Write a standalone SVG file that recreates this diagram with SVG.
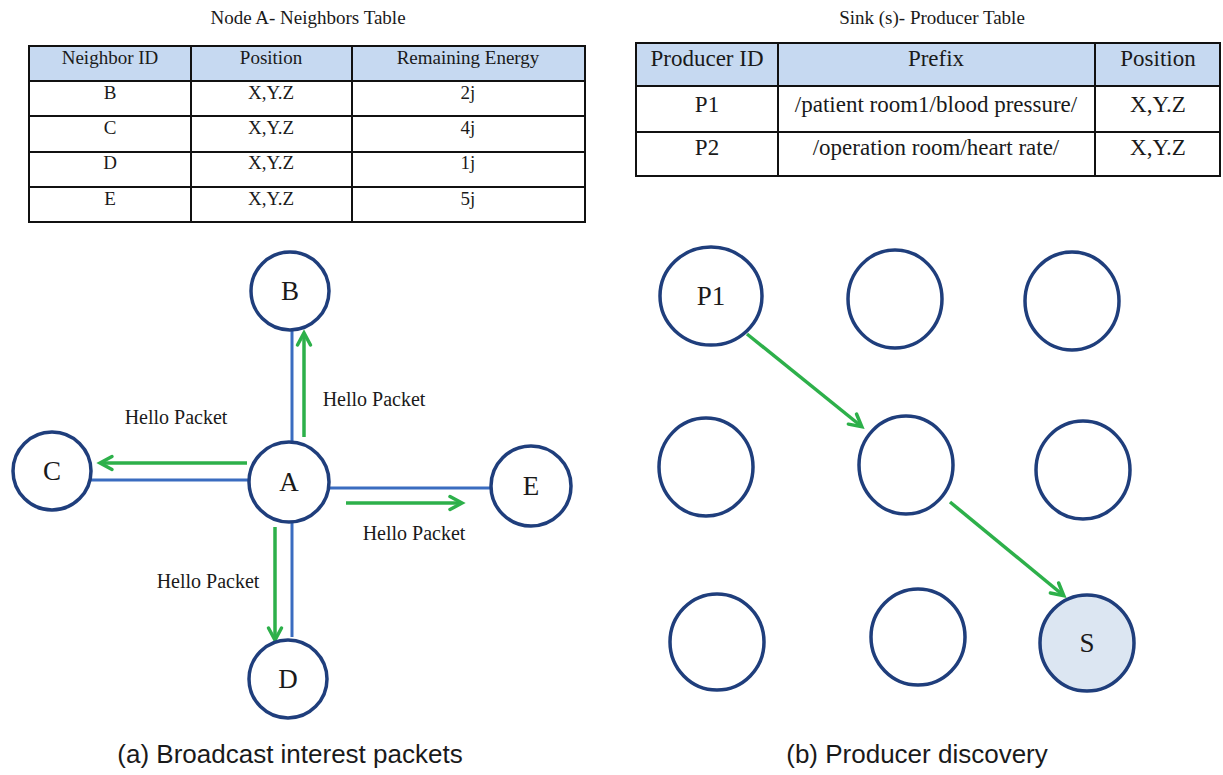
<svg xmlns="http://www.w3.org/2000/svg" width="1223" height="775" viewBox="0 0 1223 775">
<style>
.t{font-family:"Liberation Serif","Times New Roman",serif;fill:#1a1a1a;text-anchor:middle}
.lt{font-size:19px}
.rt{font-size:23px}
.hdr{fill:#c6d9f1}
.grid{stroke:#111;stroke-width:2;fill:none}
.node{fill:#fff;stroke:#1f3e7c;stroke-width:3.5}
.sink{fill:#dce6f2;stroke:#1f3e7c;stroke-width:3.5}
.nl{font-family:"Liberation Serif","Times New Roman",serif;font-size:27px;fill:#1a1a1a;text-anchor:middle}
.hp{font-family:"Liberation Serif","Times New Roman",serif;font-size:20px;fill:#1a1a1a;text-anchor:middle}
.blue{stroke:#3a6cc0;stroke-width:3;fill:none}
.green{stroke:#2db04a;stroke-width:3.5;fill:none;marker-end:url(#ah)}
.cap{font-family:"Liberation Sans",Arial,sans-serif;font-size:26px;fill:#1a1a1a;text-anchor:middle}
</style>
<defs>
<marker id="ah" viewBox="0 0 16 16" refX="13" refY="8" markerWidth="16" markerHeight="16" markerUnits="userSpaceOnUse" orient="auto" overflow="visible">
<path d="M2,1.5 L14,8 L2,14.5" fill="none" stroke="#2db04a" stroke-width="3.5" stroke-linecap="round" stroke-linejoin="miter"/>
</marker>
</defs>
<rect width="1223" height="775" fill="#fff"/>

<g id="neighbors-table">
<text class="t lt" x="308" y="24">Node A- Neighbors Table</text>
<rect class="hdr" x="29" y="46" width="556" height="35"/>
<rect class="grid" x="29" y="46" width="556" height="176"/>
<path class="grid" d="M29,81H585M29,116H585M29,152H585M29,187H585M191,46V222M352,46V222"/>
<text class="t lt" x="110" y="64">Neighbor ID</text>
<text class="t lt" x="271" y="64">Position</text>
<text class="t lt" x="468" y="64">Remaining  Energy</text>
<text class="t lt" x="110" y="99">B</text><text class="t lt" x="271" y="99">X,Y.Z</text><text class="t lt" x="468" y="99">2j</text>
<text class="t lt" x="110" y="134">C</text><text class="t lt" x="271" y="134">X,Y.Z</text><text class="t lt" x="468" y="134">4j</text>
<text class="t lt" x="110" y="169">D</text><text class="t lt" x="271" y="169">X,Y.Z</text><text class="t lt" x="468" y="169">1j</text>
<text class="t lt" x="110" y="205">E</text><text class="t lt" x="271" y="205">X,Y.Z</text><text class="t lt" x="468" y="205">5j</text>
</g>

<g id="producer-table">
<text class="t lt" x="932" y="24">Sink (s)- Producer Table</text>
<rect class="hdr" x="636" y="43" width="584" height="43"/>
<rect class="grid" x="636" y="43" width="584" height="133"/>
<path class="grid" d="M636,86H1220M636,132H1220M778,43V176M1095,43V176"/>
<text class="t rt" x="707" y="66">Producer  ID</text>
<text class="t rt" x="936" y="66">Prefix</text>
<text class="t rt" x="1158" y="66">Position</text>
<text class="t rt" x="707" y="112">P1</text>
<text class="t rt" x="936" y="112">/patient room1/blood pressure/</text>
<text class="t rt" x="1158" y="112">X,Y.Z</text>
<text class="t rt" x="707" y="155">P2</text>
<text class="t rt" x="936" y="155">/operation room/heart rate/</text>
<text class="t rt" x="1158" y="155">X,Y.Z</text>
</g>

<g id="connectors">
<path class="blue" d="M292,331V443"/>
<path class="blue" d="M91,480H250"/>
<path class="blue" d="M330,488H492"/>
<path class="blue" d="M292,522V637"/>
<path class="green" d="M304,437V334"/>
<path class="green" d="M247,463H101"/>
<path class="green" d="M346,503H461"/>
<path class="green" d="M275,527V639"/>
<path class="green" d="M747,334L861,426"/>
<path class="green" d="M950,502L1063,595"/>
</g>

<g id="labels">
<text class="hp" x="374" y="406">Hello Packet</text>
<text class="hp" x="176" y="424">Hello Packet</text>
<text class="hp" x="414" y="540">Hello Packet</text>
<text class="hp" x="208" y="588">Hello Packet</text>
</g>

<g id="node-B"><circle class="node" cx="290" cy="291" r="39"/><text class="nl" x="290" y="300">B</text></g>
<g id="node-A"><circle class="node" cx="289" cy="482" r="40"/><text class="nl" x="289" y="491">A</text></g>
<g id="node-C"><circle class="node" cx="52" cy="471" r="39"/><text class="nl" x="52" y="480">C</text></g>
<g id="node-E"><circle class="node" cx="531" cy="486" r="40"/><text class="nl" x="531" y="495">E</text></g>
<g id="node-D"><circle class="node" cx="288" cy="679" r="39"/><text class="nl" x="288" y="688">D</text></g>

<g id="node-P1"><ellipse class="node" cx="711" cy="296" rx="51" ry="49"/><text class="nl" x="711" y="305">P1</text></g>
<g id="node-r1c2"><ellipse class="node" cx="895" cy="299" rx="47" ry="49"/></g>
<g id="node-r1c3"><ellipse class="node" cx="1072" cy="301" rx="47" ry="49"/></g>
<g id="node-r2c1"><ellipse class="node" cx="706" cy="467" rx="47" ry="49"/></g>
<g id="node-r2c2"><ellipse class="node" cx="906" cy="465" rx="47" ry="49"/></g>
<g id="node-r2c3"><ellipse class="node" cx="1083" cy="470" rx="47" ry="49"/></g>
<g id="node-r3c1"><ellipse class="node" cx="717" cy="642" rx="47" ry="48"/></g>
<g id="node-r3c2"><ellipse class="node" cx="918" cy="637" rx="47" ry="48"/></g>
<g id="node-S"><ellipse class="sink" cx="1087" cy="643" rx="47" ry="48"/><text class="nl" x="1087" y="652">S</text></g>

<text class="cap" x="290" y="763">(a) Broadcast interest packets</text>
<text class="cap" x="917" y="763">(b) Producer discovery</text>
</svg>
